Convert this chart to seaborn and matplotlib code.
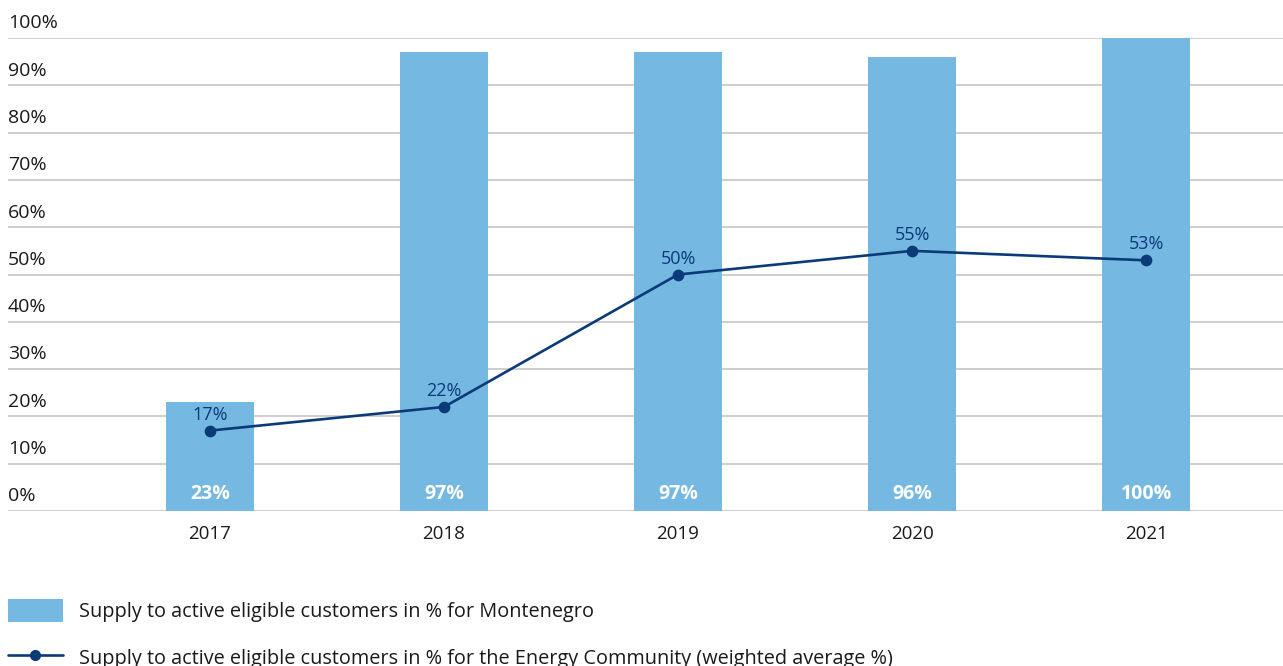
import matplotlib
matplotlib.use("Agg")
import matplotlib.pyplot as plt
import matplotlib.transforms as mtransforms
from matplotlib.patches import Patch
from matplotlib.lines import Line2D
import seaborn as sns
import pandas as pd

years = ["2017", "2018", "2019", "2020", "2021"]
montenegro = [23, 97, 97, 96, 100]
energy_community = [17, 22, 50, 55, 53]
y_ticks = [0, 10, 20, 30, 40, 50, 60, 70, 80, 90, 100]

bar_label = "Supply to active eligible customers in % for Montenegro"
line_label = "Supply to active eligible customers in % for the Energy Community (weighted average %)"

BAR_COLOR = "#75b8e2"
LINE_COLOR = "#0b3a78"
GRID_COLOR = "#c6c6c6"
TEXT_COLOR = "#1a1a1a"

sns.set_theme(style="white")
plt.rcParams["font.family"] = ["Open Sans", "DejaVu Sans"]

df = pd.DataFrame({"year": years, "montenegro": montenegro, "ec": energy_community})

fig = plt.figure(figsize=(12.83, 6.66), dpi=100)
ax = fig.add_axes([8 / 1283, 155 / 666, 1 - 8 / 1283, (511 - 38) / 666])

for t in y_ticks:
    ax.axhline(t, color=GRID_COLOR, lw=1.2, zorder=0)

sns.barplot(data=df, x="year", y="montenegro", color=BAR_COLOR, width=0.376,
            saturation=1, linewidth=0, edgecolor="none", ax=ax, zorder=2)
sns.pointplot(data=df, x="year", y="ec", color=LINE_COLOR, markers="o",
              markersize=7, linewidth=1.9, ax=ax, zorder=4)

ax.set_ylim(0, 100)
ax.set_xlim(-0.863, 4.585)
ax.set_xlabel("")
ax.set_ylabel("")
for s in ax.spines.values():
    s.set_visible(False)

# bar value labels, white and bold near the base of each bar
for i, v in enumerate(montenegro):
    ax.annotate(f"{v}%", (i, 0), xytext=(0, 12.5), textcoords="offset points",
                ha="center", va="center", color="white", fontsize=14,
                fontweight="bold", zorder=5)

# line value labels above each point
for i, v in enumerate(energy_community):
    ax.annotate(f"{v}%", (i, v), xytext=(0, 11.5), textcoords="offset points",
                ha="center", va="center", color=LINE_COLOR, fontsize=13, zorder=5)

ax.set_yticks(y_ticks)
ax.set_yticklabels([f"{t}%" for t in y_ticks])
ax.tick_params(axis="y", length=0, pad=0, labelsize=14, labelcolor=TEXT_COLOR)
ax.tick_params(axis="x", length=0, pad=10, labelsize=13.5, labelcolor=TEXT_COLOR)
shift = mtransforms.ScaledTranslation(0, 12 / 72, fig.dpi_scale_trans)
for lab in ax.get_yticklabels():
    lab.set_horizontalalignment("left")
    lab.set_transform(lab.get_transform() + shift)

handles = [
    Patch(facecolor=BAR_COLOR, edgecolor="none"),
    Line2D([0], [0], color=LINE_COLOR, lw=1.9, marker="o", markersize=7),
]
fig.legend(handles, [bar_label, line_label], loc="upper left",
           bbox_to_anchor=(8 / 1283, 1 - 599 / 666), frameon=False,
           fontsize=14.3, handlelength=2.75, handleheight=1.4, handletextpad=0.8,
           labelspacing=1.2, borderpad=0, borderaxespad=0, labelcolor=TEXT_COLOR)

fig.savefig("out.png", dpi=100)
